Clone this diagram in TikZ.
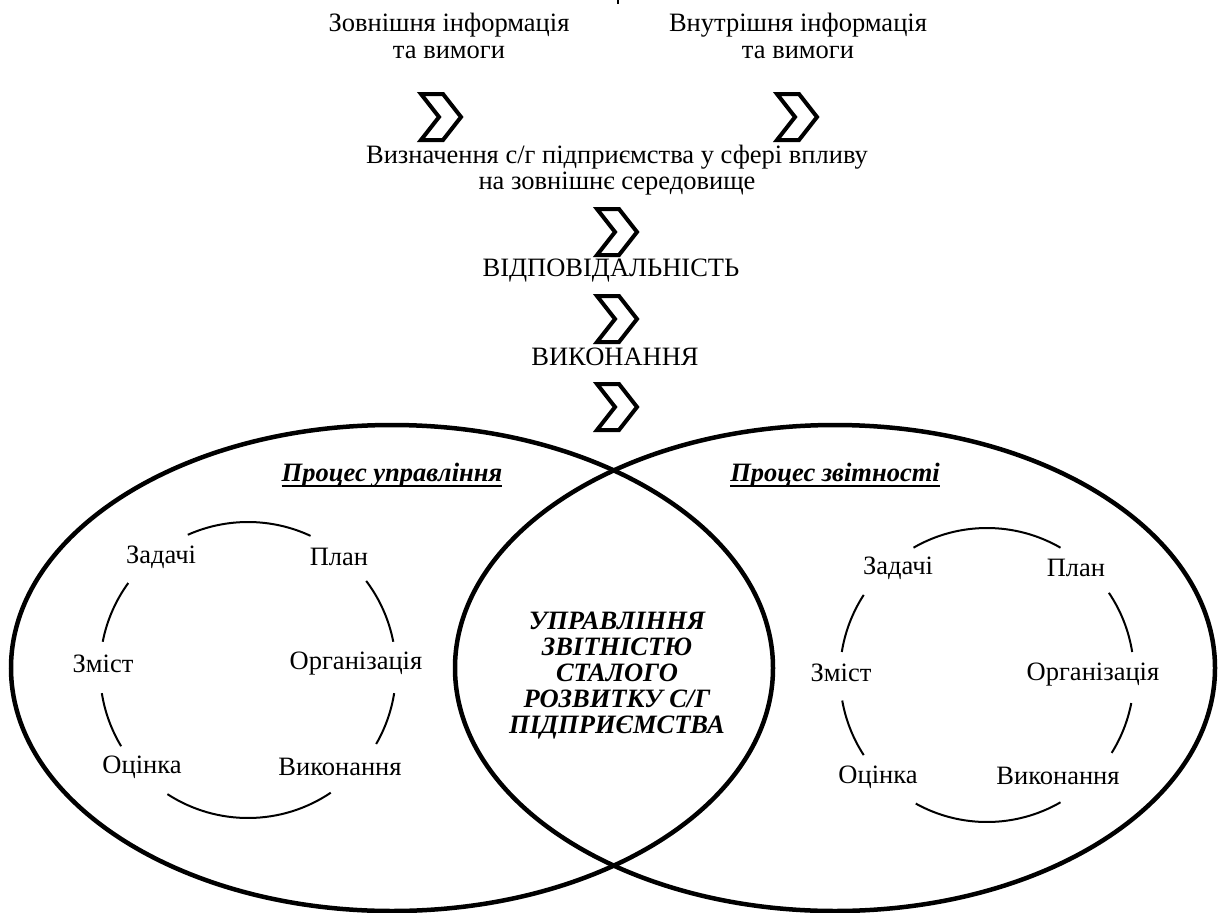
\documentclass[tikz,border=0pt]{standalone}
\usepackage{fontspec}
\setmainfont{Liberation Serif}
\newfontfamily\tnr{Liberation Serif}
\begin{document}
\begin{tikzpicture}[x=1pt,y=1pt,
  txt/.style={inner sep=0pt,align=center,font=\tnr\fontsize{26.5}{26.5}\selectfont},
  hdr/.style={inner sep=0pt,font=\tnr\fontsize{26.5}{26.5}\selectfont\bfseries\itshape},
  mid/.style={inner sep=0pt,align=center,font=\tnr\fontsize{26.5}{26}\selectfont\bfseries\itshape},
  big/.style={line width=4.5pt},
  cyc/.style={line width=2pt},
  chev/.style={line width=4pt,line join=miter,fill=white}]
\useasboundingbox (0,0) rectangle (1219,-913);
\newcommand\chevron[2]{\draw[chev] (#1,#2) ++(-20,23) -- ++(22,0) -- ++(18,-23) -- ++(-18,-23) -- ++(-22,0) -- ++(18,23) -- cycle;}
% top tick
\coordinate (t1) at (618,0);
\coordinate (t2) at (618,-4);
\draw[line width=2pt] (t1) -- (t2);
% top texts
\node[txt] (ext) at (449,-36) {Зовнішня інформація\\та вимоги};
\node[txt] (int) at (798,-36) {Внутрішня інформація\\та вимоги};
\node[txt] (def) at (617,-170) {Визначення с/г підприємства у сфері впливу\\на зовнішнє середовище};
\node[txt] (resp) at (611,-271) {ВІДПОВІДАЛЬНІСТЬ};
\node[txt] (exe) at (615,-357) {ВИКОНАННЯ};
% ellipses
\draw[big] (392,-668) ellipse[x radius=381, y radius=243];
\draw[big] (835,-668) ellipse[x radius=380, y radius=243];
% chevrons
\chevron{441}{-117}
\chevron{797}{-117}
\chevron{617}{-232}
\chevron{617}{-319}
\chevron{617}{-407}
% headers
\node[hdr] (hl) at (392,-475) {Процес управління};
\draw[line width=1.8pt] ([yshift=-5pt]hl.base west) -- ([yshift=-5pt]hl.base east);
\node[hdr] (hr) at (835,-475) {Процес звітності};
\draw[line width=1.8pt] ([yshift=-5pt]hr.base west) -- ([yshift=-5pt]hr.base east);
% centre text
\node[mid] (core) at (617,-676) {УПРАВЛІННЯ\\ЗВІТНІСТЮ\\СТАЛОГО\\РОЗВИТКУ С/Г\\ПІДПРИЄМСТВА};
% left cycle
\coordinate (L) at (248,-670);
\foreach \a/\b in {65/114,144/169,189/211,237/304,11/37,-30/-9}
  \draw[cyc] (L) ++(\a:148) arc[start angle=\a, end angle=\b, radius=148];
\node[txt] (lz) at (161,-557) {Задачі};
\node[txt] (lp) at (339,-557) {План};
\node[txt] (ls) at (103,-664) {Зміст};
\node[txt] (lo) at (356,-664) {Організація};
\node[txt] (lc) at (142,-767) {Оцінка};
\node[txt] (lv) at (340,-767) {Виконання};
% right cycle
\coordinate (R) at (987,-675);
\foreach \a/\b in {60/120,147/171,190/213,241/300,9/34,-32/-11}
  \draw[cyc] (R) ++(\a:147) arc[start angle=\a, end angle=\b, radius=147];
\node[txt] (rz) at (898,-568) {Задачі};
\node[txt] (rp) at (1076,-568) {План};
\node[txt] (rs) at (841,-673) {Зміст};
\node[txt] (ro) at (1093,-675) {Організація};
\node[txt] (rc) at (878,-777) {Оцінка};
\node[txt] (rv) at (1058,-776) {Виконання};
\end{tikzpicture}
\end{document}
